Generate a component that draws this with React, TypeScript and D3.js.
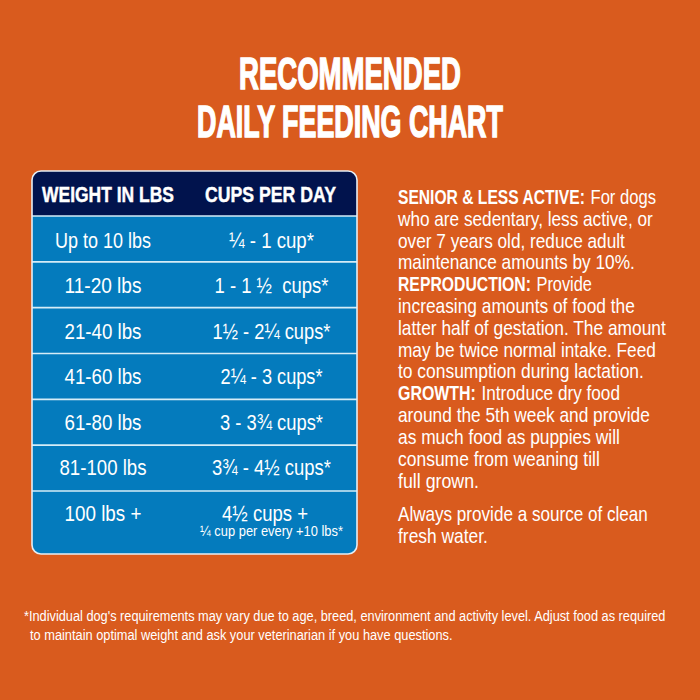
import React, { useLayoutEffect, useRef } from 'react';
import * as d3 from 'd3';

const titleLines = ['RECOMMENDED', 'DAILY FEEDING CHART'];
const titleExtents = [[239, 461], [197, 503]];
const headers = ['WEIGHT IN LBS', 'CUPS PER DAY'];
const weights = ['Up to 10 lbs', '11-20 lbs', '21-40 lbs', '41-60 lbs', '61-80 lbs', '81-100 lbs', '100 lbs +'];
const cups = ['¼ - 1 cup*', '1 - 1 ½  cups*', '1½ - 2¼ cups*', '2¼ - 3 cups*', '3 - 3¾ cups*', '3¾ - 4½ cups*', '4½ cups +'];
const weightWidths = [96, 77, 77, 77, 77, 87, 77];
const cupWidths = [85, 114, 118, 102, 103, 119, 86];
const lastNote = '¼ cup per every +10 lbs*';

// side copy, one entry per printed line
const sideHeads = ['SENIOR & LESS ACTIVE:', '', '', '', 'REPRODUCTION:', '', '', '', '', 'GROWTH:', '', '', '', ''];
const sideHeadEnds = [585, 0, 0, 0, 531, 0, 0, 0, 0, 476, 0, 0, 0, 0];
const sideBodies = [
  'For dogs',
  'who are sedentary, less active, or',
  'over 7 years old, reduce adult',
  'maintenance amounts by 10%.',
  'Provide',
  'increasing amounts of food the',
  'latter half of gestation. The amount',
  'may be twice normal intake. Feed',
  'to consumption during lactation.',
  'Introduce dry food',
  'around the 5th week and provide',
  'as much food as puppies will',
  'consume from weaning till',
  'full grown.',
];
const sideBodyEnds = [656, 653, 625, 635, 592, 635, 666, 656, 644, 620, 650, 620, 600, 479];
const waterLines = ['Always provide a source of clean', 'fresh water.'];
const waterEnds = [648, 488];
const footnoteLines = [
  "*Individual dog's requirements may vary due to age, breed, environment and activity level. Adjust food as required",
  'to maintain optimal weight and ask your veterinarian if you have questions.',
];
const footnoteExtents = [[24, 666], [30, 453]];

const FONT = '"Liberation Sans", Arial, sans-serif';

// the original type is condensed, so squeeze each text to its measured width
function Fit({ x, y, w, children, ...rest }: any) {
  const ref = useRef<SVGTextElement>(null);
  useLayoutEffect(() => {
    if (!ref.current) return;
    const natural = ref.current.getComputedTextLength();
    d3.select(ref.current).attr('transform', `translate(${x},${y}) scale(${w / natural},1)`);
  });
  return <text ref={ref} fill="#fff" {...rest}>{children}</text>;
}

export default function App() {
  const rowY = d3.scaleLinear().domain([0, 6]).range([216, 491]);
  const rowBase = d3.scaleLinear().domain([0, 5]).range([248, 475]);
  const sideY = d3.scaleLinear().domain([0, 13]).range([204, 487.5]);
  const tableLeft = 32, tableRight = 357, tableTop = 171, tableBottom = 554;
  const colCentre = [103, 271.5];
  const sideLeft = 398;

  const tablePath = d3.path();
  tablePath.moveTo(tableLeft + 9, tableTop);
  tablePath.arcTo(tableRight, tableTop, tableRight, tableTop + 9, 9);
  tablePath.arcTo(tableRight, tableBottom, tableRight - 9, tableBottom, 9);
  tablePath.arcTo(tableLeft, tableBottom, tableLeft, tableBottom - 9, 9);
  tablePath.arcTo(tableLeft, tableTop, tableLeft + 9, tableTop, 9);
  tablePath.closePath();

  return (
    <svg width={700} height={700} viewBox="0 0 700 700" fontFamily={FONT}
      style={{ position: 'fixed', left: 0, top: 0, display: 'block' }}>
      <defs>
        <clipPath id="table"><path d={tablePath.toString()} /></clipPath>
      </defs>
      <rect width={700} height={700} fill="#d95b1e" />

      {/* title */}
      {titleLines.map((t, i) => (
        <Fit key={t} x={titleExtents[i][0]} y={88.5 + i * 48} w={titleExtents[i][1] - titleExtents[i][0]}
          fontSize={45} fontWeight={700} stroke="#fff" strokeWidth={1.3} vectorEffect="non-scaling-stroke">{t}</Fit>
      ))}

      {/* table */}
      <g clipPath="url(#table)">
        <rect x={tableLeft} y={tableTop} width={tableRight - tableLeft} height={tableBottom - tableTop} fill="#047bbd" />
        <rect x={tableLeft} y={tableTop} width={tableRight - tableLeft} height={rowY(0) - tableTop} fill="#01134d" />
        {weights.map((_, i) => (
          <line key={i} x1={tableLeft} x2={tableRight} y1={rowY(i)} y2={rowY(i)} stroke="#d5ecf7" strokeWidth={1.6} />
        ))}
      </g>
      <path d={tablePath.toString()} fill="none" stroke="#e6eef4" strokeWidth={1.6} />

      {headers.map((h, i) => (
        <Fit key={h} x={i === 0 ? 108 : 270.5} y={202} w={i === 0 ? 132 : 131} textAnchor="middle"
          fontSize={21.5} fontWeight={700} stroke="#fff" strokeWidth={0.4} vectorEffect="non-scaling-stroke">{h}</Fit>
      ))}
      {weights.map((w, i) => (
        <Fit key={w} x={colCentre[0]} y={i === 6 ? 520.5 : rowBase(i)} w={weightWidths[i]} textAnchor="middle" fontSize={21.5}>{w}</Fit>
      ))}
      {cups.map((c, i) => (
        <Fit key={c} x={i === 6 ? 265 : colCentre[1]} y={i === 6 ? 520.5 : rowBase(i)} w={cupWidths[i]} textAnchor="middle"
          fontSize={21.5} style={{ whiteSpace: 'pre' }}>{c}</Fit>
      ))}
      <Fit x={271.5} y={536} w={143} textAnchor="middle" fontSize={14.5}>{lastNote}</Fit>

      {/* side text */}
      {sideBodies.map((b, i) => {
        const start = sideHeads[i] ? sideHeadEnds[i] + 5.5 : sideLeft;
        return (
          <g key={b}>
            {sideHeads[i] && (
              <Fit x={sideLeft} y={sideY(i)} w={sideHeadEnds[i] - sideLeft} fontSize={20} fontWeight={700}>{sideHeads[i]}</Fit>
            )}
            <Fit x={start} y={sideY(i)} w={sideBodyEnds[i] - start} fontSize={20.5}>{b}</Fit>
          </g>
        );
      })}
      {waterLines.map((t, i) => (
        <Fit key={t} x={sideLeft} y={521 + i * 21.5} w={waterEnds[i] - sideLeft} fontSize={20.5}>{t}</Fit>
      ))}

      {/* footnote */}
      {footnoteLines.map((t, i) => (
        <Fit key={t} x={footnoteExtents[i][0]} y={620.5 + i * 19} w={footnoteExtents[i][1] - footnoteExtents[i][0]} fontSize={15.5}>{t}</Fit>
      ))}
    </svg>
  );
}
